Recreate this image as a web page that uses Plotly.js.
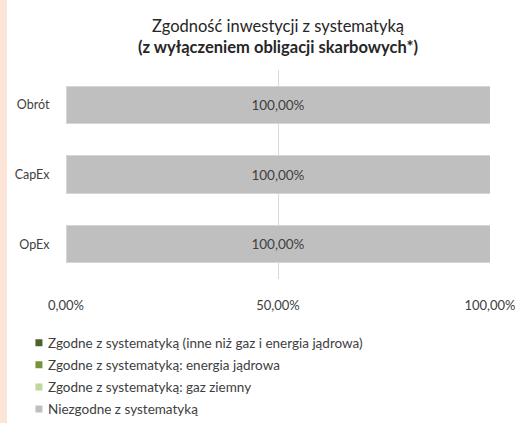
<!DOCTYPE html>
<html>
<head>
<meta charset="utf-8">
<script src="https://cdn.plot.ly/plotly-3.0.1.min.js"></script>
<style>
  html, body { margin: 0; padding: 0; background: #ffffff; }
  #strip { position: absolute; left: 0; top: 0; width: 7px; height: 423px; background: #FCE4D6; z-index: 2; }
  #chart { position: absolute; left: 0; top: 0; width: 515px; height: 423px; }
</style>
</head>
<body>
<div id="strip"></div>
<div id="chart"></div>
<script>
const categories = ["Obrót", "CapEx", "OpEx"];
const seriesNames = [
  "Zgodne z systematyką (inne niż gaz i energia jądrowa)",
  "Zgodne z systematyką: energia jądrowa",
  "Zgodne z systematyką: gaz ziemny",
  "Niezgodne z systematyką"
];
const otherAligned = [0, 0, 0];
const nuclearAligned = [0, 0, 0];
const gasAligned = [0, 0, 0];
const notAligned = [1, 1, 1];
const xTicks = [0, 0.5, 1];

const colors = ["#4F6228", "#77933C", "#C3D69B", "#BFBFBF"];
const values = [otherAligned, nuclearAligned, gasAligned, notAligned];
const font = "Lato, 'Open Sans', sans-serif";

const traces = [];
values.forEach((vals, i) => {
  traces.push({
    type: "bar",
    orientation: "h",
    y: categories,
    x: vals,
    name: seriesNames[i],
    showlegend: false,
    marker: { color: colors[i], line: { color: i === 3 ? "#D6D6D6" : colors[i], width: 1 } },
    texttemplate: i === 3 ? "%{x:.2%}" : "",
    textposition: i === 3 ? "inside" : "none",
    insidetextanchor: "middle",
    textfont: { family: font, size: 13.5, color: "#404040" },
    hoverinfo: "skip"
  });
});
values.forEach((vals, i) => {
  traces.push({
    type: "scatter",
    mode: "markers",
    x: [null],
    y: [null],
    name: seriesNames[i],
    legendgroup: "g" + i,
    marker: { symbol: "square", size: 7, color: colors[i] },
    showlegend: true,
    hoverinfo: "skip"
  });
});

const layout = {
  width: 515,
  height: 423,
  margin: { l: 66, r: 25, t: 70, b: 132 },
  paper_bgcolor: "#ffffff",
  plot_bgcolor: "#ffffff",
  separators: ", ",
  barmode: "stack",
  bargap: 0.46,
  font: { family: font, size: 12, color: "#404040" },
  title: {
    text: "Zgodność inwestycji z systematyką<br><b>(z wyłączeniem obligacji skarbowych*)</b>",
    x: 0.5, xref: "paper", xanchor: "center",
    y: 0.925, yanchor: "top",
    font: { family: font, size: 16.5, color: "#262626" }
  },
  xaxis: {
    range: [0, 1],
    tickvals: xTicks,
    tickformat: ".2%",
    ticklabeloverflow: "allow",
    showgrid: true,
    gridcolor: "#D9D9D9",
    gridwidth: 1,
    zeroline: false,
    showline: false,
    ticks: "outside", ticklen: 14, tickcolor: "rgba(0,0,0,0)",
    tickfont: { family: font, size: 13, color: "#404040" },
    fixedrange: true
  },
  yaxis: {
    categoryorder: "array",
    categoryarray: categories,
    autorange: "reversed",
    showgrid: false,
    zeroline: false,
    showline: false,
    ticks: "outside", ticklen: 13, tickcolor: "rgba(0,0,0,0)",
    tickfont: { family: font, size: 12.5, color: "#404040" },
    fixedrange: true
  },
  legend: {
    orientation: "v",
    x: -0.111, xanchor: "left",
    y: -0.17, yanchor: "top",
    traceorder: "grouped",
    itemwidth: 30,
    tracegroupgap: 1.5,
    font: { family: font, size: 13.5, color: "#404040" },
    bgcolor: "rgba(0,0,0,0)"
  },
  showlegend: true
};

Plotly.newPlot("chart", traces, layout, { displayModeBar: false, staticPlot: true }).then(gd => {
  // tighten the gap between legend swatch and label
  gd.querySelectorAll(".legend .legendtext").forEach(t => {
    t.setAttribute("x", parseFloat(t.getAttribute("x")) - 11);
  });
  // legend would be clamped inside the page; nudge it down to match the reference
  const lg = gd.querySelector("g.legend");
  if (lg) {
    const m = /translate\(\s*([-\d.]+)[ ,]+([-\d.]+)\s*\)/.exec(lg.getAttribute("transform") || "");
    if (m) lg.setAttribute("transform", "translate(" + m[1] + "," + (parseFloat(m[2]) + 13) + ")");
  }
});
</script>
</body>
</html>
